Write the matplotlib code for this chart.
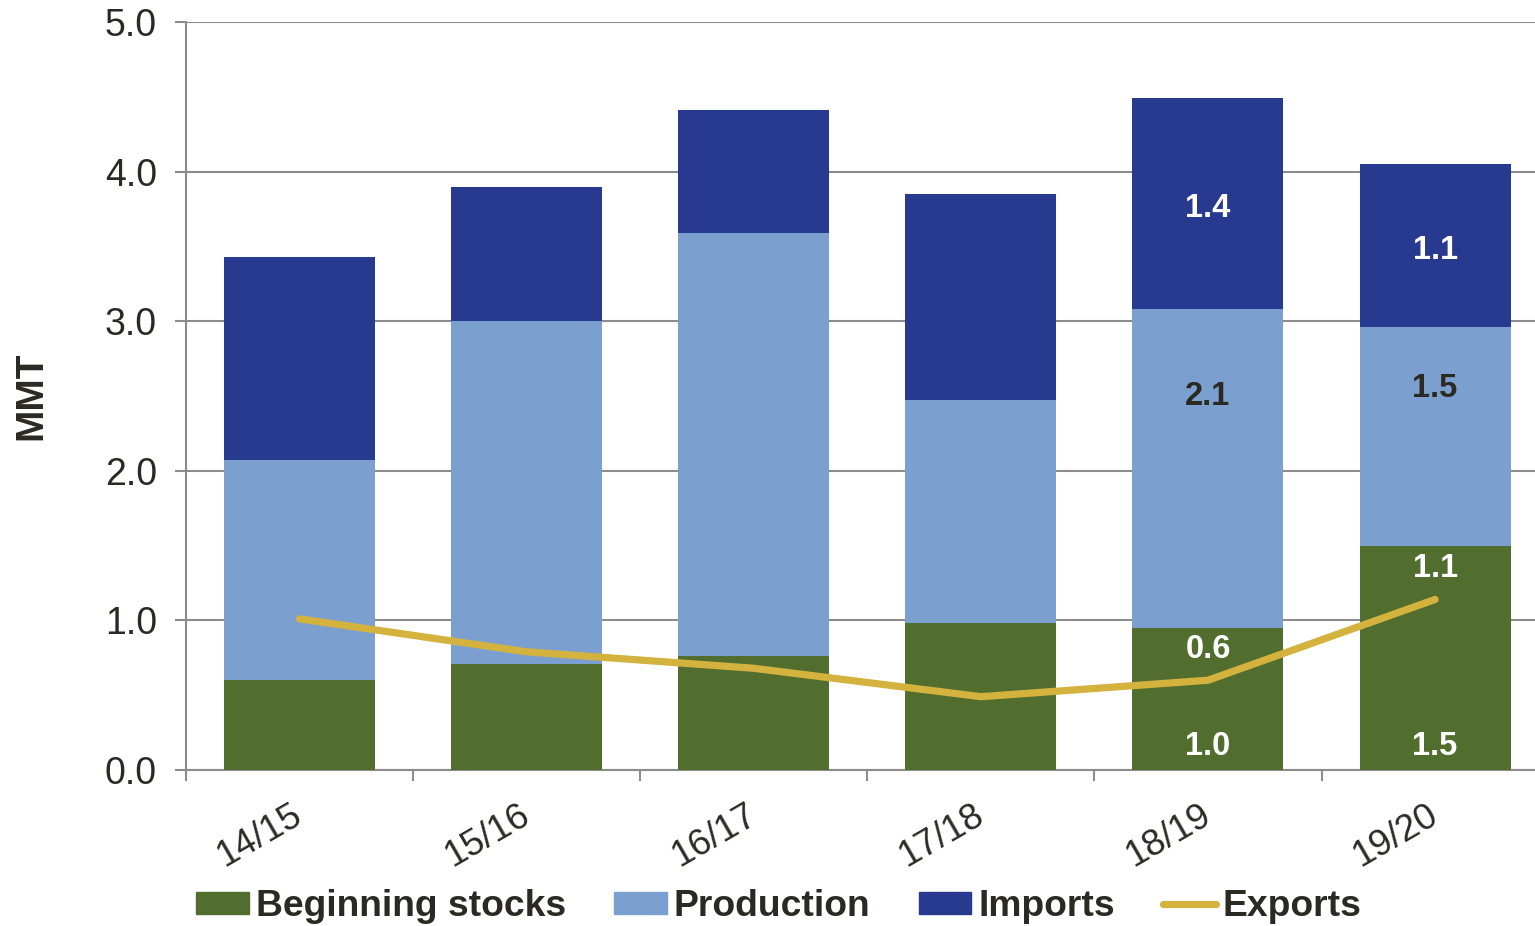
import matplotlib
matplotlib.use("Agg")
import matplotlib.pyplot as plt
import matplotlib.transforms as mtransforms
import numpy as np
from matplotlib.patches import Patch
from matplotlib.lines import Line2D

plt.rcParams['font.family'] = ['Liberation Sans', 'DejaVu Sans']

categories = ["14/15", "15/16", "16/17", "17/18", "18/19", "19/20"]
beginning_stocks = [0.60, 0.71, 0.76, 0.98, 0.95, 1.50]
production = [1.47, 2.29, 2.83, 1.49, 2.13, 1.46]
imports = [1.36, 0.90, 0.82, 1.38, 1.41, 1.09]
exports = [1.01, 0.79, 0.68, 0.49, 0.60, 1.14]

# labels shown only for last two years
lab_idx = [4, 5]
stock_labels = ["1.0", "1.5"]
export_labels = ["0.6", "1.1"]
prod_labels = ["2.1", "1.5"]
imp_labels = ["1.4", "1.1"]

yticks = [0.0, 1.0, 2.0, 3.0, 4.0, 5.0]

c_green = "#526E2F"
c_light = "#7BA0CF"
c_dark = "#283A8F"
c_gold = "#D4B23E"
c_text = "#2B2A22"
c_grid = "#8C8C8C"

fig = plt.figure(figsize=(15.35, 9.26), dpi=100)
ax = fig.add_axes([186/1535, 1-770/926, 1-186/1535, (770-22)/926])

x = np.arange(len(categories))
w = 0.665
bs = np.array(beginning_stocks)
pr = np.array(production)
im = np.array(imports)

ax.bar(x, bs, w, color=c_green, zorder=3)
ax.bar(x, pr, w, bottom=bs, color=c_light, zorder=3)
ax.bar(x, im, w, bottom=bs+pr, color=c_dark, zorder=3)
ax.plot(x, exports, color=c_gold, lw=5.2, solid_capstyle='round', solid_joinstyle='round', zorder=4)

fs_lab = 23.5
down = mtransforms.offset_copy(ax.transData, fig=fig, x=0, y=-3.5, units='points')
for k, i in enumerate(lab_idx):
    ax.text(x[i], 0.19, stock_labels[k], ha='center', va='center', color='white', fontsize=fs_lab, fontweight='bold', zorder=5, transform=down)
    ax.text(x[i], exports[i] + 0.24, export_labels[k], ha='center', va='center', color='white', fontsize=fs_lab, fontweight='bold', zorder=5, transform=down)
    ax.text(x[i], bs[i] + pr[i]*0.74, prod_labels[k], ha='center', va='center', color=c_text, fontsize=fs_lab, fontweight='bold', zorder=5, transform=down)
    ax.text(x[i], bs[i] + pr[i] + im[i]/2, imp_labels[k], ha='center', va='center', color='white', fontsize=fs_lab, fontweight='bold', zorder=5, transform=down)

ax.set_ylim(0, 5.0)
ax.set_xlim(-0.5, 5.44)
ax.set_yticks(yticks)
ax.set_yticklabels([f"{v:.1f}" for v in yticks])
ax.yaxis.grid(True, color=c_grid, lw=1.5, zorder=0)
ax.set_axisbelow(True)
for s in ['top', 'right']:
    ax.spines[s].set_visible(False)
for s in ['left', 'bottom']:
    ax.spines[s].set_color(c_grid)
    ax.spines[s].set_linewidth(1.5)

ax.set_xticks(x)
ax.set_xticklabels(categories, rotation=30, ha='right', va='center', rotation_mode='anchor',
                   fontsize=26.5, color=c_text)
ax.set_xticks(np.arange(-0.5, 5.5, 1.0), minor=True)
ax.tick_params(axis='x', which='major', length=0, pad=31)
ax.tick_params(axis='x', which='minor', length=8, width=1.5, color=c_grid)
ax.tick_params(axis='y', length=8, width=1.5, color=c_grid, labelsize=27, labelcolor=c_text, pad=13)

ax.set_ylabel("MMT", fontsize=28, fontweight='bold', color=c_text)
ax.yaxis.set_label_coords(-0.101, 0.5)

handles = [Patch(color=c_green), Patch(color=c_light), Patch(color=c_dark),
           Line2D([0], [0], color=c_gold, lw=5.2, solid_capstyle='round')]
names = ["Beginning stocks", "Production", "Imports", "Exports"]
leg = fig.legend(handles, names, loc='center', bbox_to_anchor=(0.5075, 0.021), ncol=4,
                 frameon=False, prop={'size': 26.8, 'weight': 'bold'},
                 handlelength=1.41, handleheight=0.53, handletextpad=0.19, columnspacing=1.3,
                 borderpad=0, borderaxespad=0)
for t in leg.get_texts():
    t.set_color(c_text)

fig.savefig("out.png", dpi=100)
